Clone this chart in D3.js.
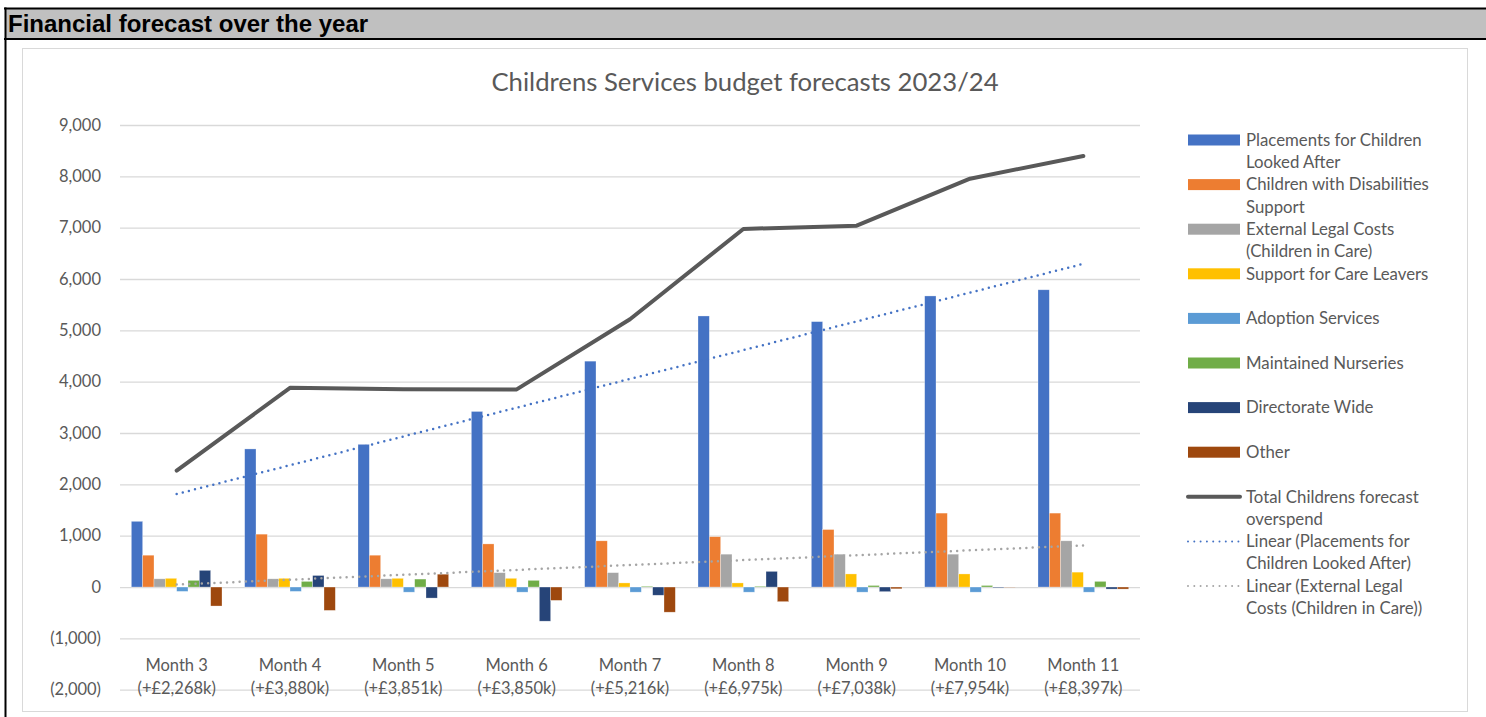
<!DOCTYPE html>
<html>
<head>
<meta charset="utf-8">
<script src="https://cdn.jsdelivr.net/npm/d3@7"></script>
<style>
body { margin: 0; background: #fff; }
svg text { font-family: Lato, "Open Sans", sans-serif; fill: #595959; }
</style>
</head>
<body>
<svg id="chart"></svg>
<script>
const months = ['Month 3', 'Month 4', 'Month 5', 'Month 6', 'Month 7', 'Month 8', 'Month 9', 'Month 10', 'Month 11'];
const monthTotals = ['(+£2,268k)', '(+£3,880k)', '(+£3,851k)', '(+£3,850k)', '(+£5,216k)', '(+£6,975k)', '(+£7,038k)', '(+£7,954k)', '(+£8,397k)'];

const placements = [1280, 2690, 2780, 3420, 4400, 5280, 5170, 5670, 5790];
const disabilities = [620, 1030, 620, 840, 900, 980, 1120, 1440, 1440];
const legalCosts = [160, 160, 160, 280, 280, 640, 640, 640, 900];
const careLeavers = [170, 170, 170, 170, 80, 80, 255, 255, 290];
const adoption = [-85, -85, -100, -100, -100, -100, -100, -100, -100];
const nurseries = [130, 110, 155, 130, 15, 15, 30, 30, 110];
const directorate = [325, 225, -215, -665, -160, 305, -90, -15, -40];
const other = [-370, -455, 250, -260, -490, -285, -35, -5, -40];
const totalForecast = [2268, 3880, 3851, 3850, 5216, 6975, 7038, 7954, 8397];

const yTicks = [-2000, -1000, 0, 1000, 2000, 3000, 4000, 5000, 6000, 7000, 8000, 9000];

const barSeries = [
    { name: 'Placements for Children Looked After', lines: ['Placements for Children', 'Looked After'], values: placements, color: '#4472C4' },
    { name: 'Children with Disabilities Support', lines: ['Children with Disabilities', 'Support'], values: disabilities, color: '#ED7D31' },
    { name: 'External Legal Costs (Children in Care)', lines: ['External Legal Costs', '(Children in Care)'], values: legalCosts, color: '#A5A5A5' },
    { name: 'Support for Care Leavers', lines: ['Support for Care Leavers'], values: careLeavers, color: '#FFC000' },
    { name: 'Adoption Services', lines: ['Adoption Services'], values: adoption, color: '#5B9BD5' },
    { name: 'Maintained Nurseries', lines: ['Maintained Nurseries'], values: nurseries, color: '#70AD47' },
    { name: 'Directorate Wide', lines: ['Directorate Wide'], values: directorate, color: '#264478' },
    { name: 'Other', lines: ['Other'], values: other, color: '#9E480E' }
];

const width = 1486;
const height = 717;
const plot = { left: 120, right: 1140, top: 125, bottom: 689.7 };

const svg = d3.select('#chart')
    .attr('width', width)
    .attr('height', height);

// page header
svg.append('rect')
    .attr('x', 5).attr('y', 8)
    .attr('width', width - 5).attr('height', 31)
    .attr('fill', '#c0c0c0');
svg.append('line')
    .attr('x1', 4).attr('x2', width).attr('y1', 8.5).attr('y2', 8.5)
    .attr('stroke', '#000').attr('stroke-width', 2);
svg.append('line')
    .attr('x1', 4).attr('x2', width).attr('y1', 39).attr('y2', 39)
    .attr('stroke', '#000').attr('stroke-width', 2);
svg.append('line')
    .attr('x1', 5.5).attr('x2', 5.5).attr('y1', 7.5).attr('y2', height)
    .attr('stroke', '#000').attr('stroke-width', 2);
svg.append('text')
    .attr('x', 8).attr('y', 32)
    .style('font-family', '"Liberation Sans", Arial, sans-serif')
    .style('font-weight', 'bold')
    .style('font-size', '24px')
    .style('fill', '#000')
    .text('Financial forecast over the year');

// chart frame
svg.append('rect')
    .attr('x', 22.5).attr('y', 48.5)
    .attr('width', 1445).attr('height', 663)
    .attr('fill', '#fff')
    .attr('stroke', '#d9d9d9');

svg.append('text')
    .attr('x', 745).attr('y', 91)
    .attr('text-anchor', 'middle')
    .style('font-size', '25.7px')
    .text('Childrens Services budget forecasts 2023/24');

const xScale = d3.scaleBand()
    .domain(months)
    .range([plot.left, plot.right]);

const xInner = d3.scaleBand()
    .domain(barSeries.map(s => s.name))
    .range([0, xScale.bandwidth()])
    .paddingInner(0)
    .paddingOuter(1);

const yScale = d3.scaleLinear()
    .domain([-2000, 9000])
    .range([plot.bottom, plot.top]);

const fmt = d3.format(',');
const yAxis = d3.axisLeft(yScale)
    .tickValues(yTicks)
    .tickSize(-(plot.right - plot.left))
    .tickPadding(19)
    .tickFormat(d => d < 0 ? `(${fmt(-d)})` : fmt(d));

const yG = svg.append('g')
    .attr('transform', `translate(${plot.left}, 0)`)
    .call(yAxis);
yG.select('.domain').remove();
yG.selectAll('line').attr('stroke', '#d9d9d9').attr('stroke-width', 1.3);
yG.selectAll('text')
    .style('font-size', '16.5px')
    .attr('fill', '#595959');

// category labels
const xAxis = d3.axisBottom(xScale).tickSize(0).tickFormat('');
const xG = svg.append('g')
    .attr('transform', `translate(0, ${plot.bottom})`)
    .call(xAxis);
xG.select('.domain').remove();
xG.selectAll('.tick').append('text')
    .attr('text-anchor', 'middle')
    .style('font-size', '16.5px')
    .attr('fill', '#595959')
    .each(function (d, i) {
        const t = d3.select(this);
        t.append('tspan').attr('x', 0).attr('y', -18.5).text(d);
        t.append('tspan').attr('x', 0).attr('y', 4.5).text(monthTotals[i]);
    });

// bars
const groups = svg.append('g')
    .selectAll('g')
    .data(barSeries)
    .join('g')
    .attr('fill', d => d.color);

groups.selectAll('rect')
    .data(s => s.values.map((v, i) => ({ name: s.name, month: months[i], value: v })))
    .join('rect')
    .attr('x', d => xScale(d.month) + xInner(d.name))
    .attr('width', xInner.bandwidth())
    .attr('y', d => yScale(Math.max(0, d.value)))
    .attr('height', d => Math.abs(yScale(d.value) - yScale(0)))
    .attr('stroke', '#fff')
    .attr('stroke-opacity', 0.5)
    .attr('stroke-width', 0.6);

// trend lines (least squares over month index)
function linearFit(values) {
    const xs = values.map((_, i) => i);
    const mx = d3.mean(xs);
    const my = d3.mean(values);
    const slope = d3.sum(xs, (x, i) => (x - mx) * (values[i] - my)) / d3.sum(xs, x => (x - mx) ** 2);
    return values.map((_, i) => my + slope * (i - mx));
}

const xCenter = i => xScale(months[i]) + xScale.bandwidth() / 2;
const line = d3.line()
    .x((_, i) => xCenter(i))
    .y(d => yScale(d));

svg.append('path')
    .datum(totalForecast)
    .attr('d', line)
    .attr('fill', 'none')
    .attr('stroke', '#595959')
    .attr('stroke-width', 4)
    .attr('stroke-linejoin', 'round')
    .attr('stroke-linecap', 'round');

svg.append('path')
    .datum(linearFit(placements))
    .attr('d', line)
    .attr('fill', 'none')
    .attr('stroke', '#4472C4')
    .attr('stroke-width', 2.5)
    .attr('stroke-linecap', 'round')
    .attr('stroke-dasharray', '0 6.3');

svg.append('path')
    .datum(linearFit(legalCosts))
    .attr('d', line)
    .attr('fill', 'none')
    .attr('stroke', '#A5A5A5')
    .attr('stroke-width', 2.5)
    .attr('stroke-linecap', 'round')
    .attr('stroke-dasharray', '0 6.3');

// legend
const legendItems = barSeries.map(s => ({ lines: s.lines, type: 'bar', color: s.color }))
    .concat([
        { lines: ['Total Childrens forecast', 'overspend'], type: 'line', color: '#595959' },
        { lines: ['Linear (Placements for', 'Children Looked After)'], type: 'dot', color: '#4472C4' },
        { lines: ['Linear (External Legal', 'Costs (Children in Care))'], type: 'dot', color: '#A5A5A5' }
    ]);

const legend = svg.append('g')
    .selectAll('g')
    .data(legendItems)
    .join('g')
    .attr('transform', (d, i) => `translate(1188, ${140 + i * 44.6})`);

legend.filter(d => d.type === 'bar').append('rect')
    .attr('x', 0).attr('y', -5.5)
    .attr('width', 52).attr('height', 11)
    .attr('fill', d => d.color);

legend.filter(d => d.type !== 'bar').append('line')
    .attr('x1', 0).attr('x2', 52)
    .attr('stroke', d => d.color)
    .attr('stroke-width', d => d.type === 'line' ? 4 : 2)
    .attr('stroke-linecap', 'round')
    .attr('stroke-dasharray', d => d.type === 'dot' ? '0 6.3' : null);

legend.append('text')
    .attr('x', 58)
    .style('font-size', '16.8px')
    .each(function (d) {
        const t = d3.select(this);
        d.lines.forEach((l, j) => {
            t.append('tspan').attr('x', 58).attr('y', 5.8 + j * 22.3).text(l);
        });
    });
</script>
</body>
</html>
